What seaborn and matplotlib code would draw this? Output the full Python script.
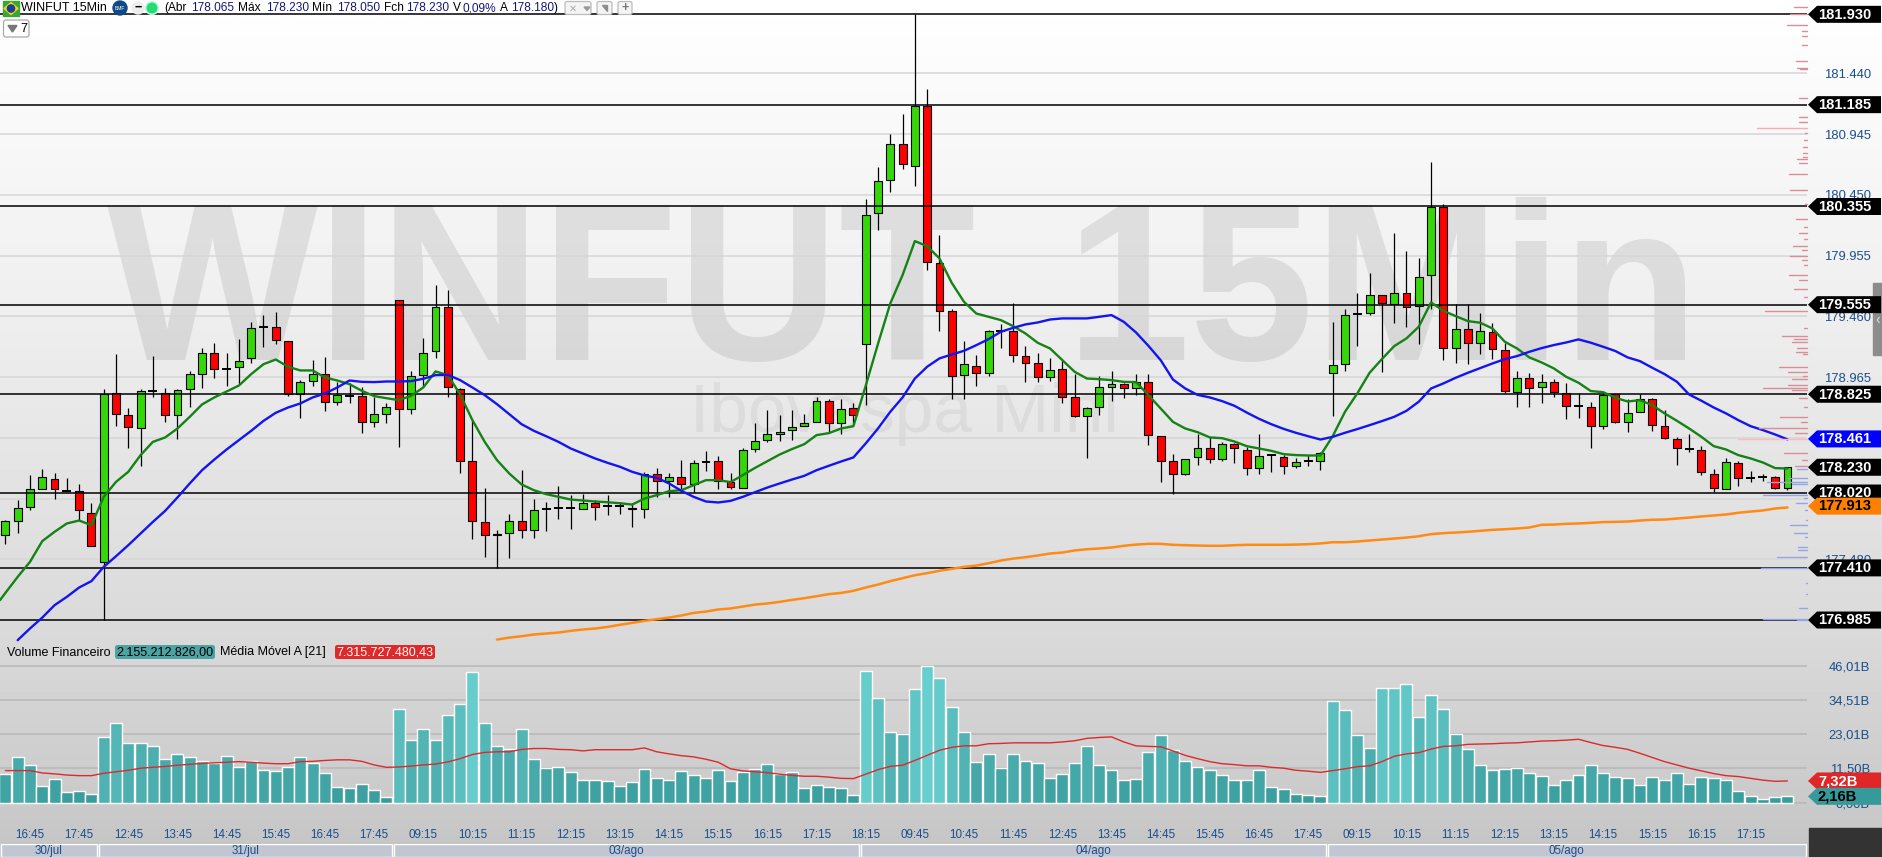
import numpy as np
import pandas as pd
import matplotlib
matplotlib.use("Agg")
import matplotlib.pyplot as plt
import seaborn as sns
from matplotlib.patches import Circle, FancyBboxPatch, Polygon, Rectangle
from matplotlib.transforms import blended_transform_factory

# candles, one entry per 15 minute bar
opens = [177.674,177.788,177.907,178.054,178.138,178.038,178.038,177.861,177.462,178.839,
         178.652,178.554,178.848,178.839,178.652,178.864,178.994,179.165,179.032,179.043,
         179.117,179.377,179.369,179.255,178.831,178.929,178.994,178.758,178.810,178.807,
         178.595,178.668,179.589,178.701,178.978,179.174,179.540,178.864,178.277,177.780,
         177.674,177.698,177.788,177.715,177.886,177.894,177.899,177.886,177.935,177.916,
         177.916,177.902,177.886,178.171,178.122,178.147,178.090,178.274,178.285,178.106,
         178.065,178.375,178.456,178.497,178.530,178.570,178.595,178.774,178.587,178.709,
         179.231,180.298,180.567,180.861,180.689,181.178,179.891,179.500,178.978,179.059,
         179.002,179.337,179.337,179.133,179.076,178.962,179.027,178.799,178.644,178.717,
         178.888,178.905,178.872,178.921,178.481,178.285,178.179,178.310,178.383,178.301,
         178.416,178.367,178.220,178.326,178.310,178.239,178.277,178.277,178.995,179.068,
         179.476,179.484,179.630,179.557,179.647,179.541,179.793,180.348,179.198,179.353,
         179.239,179.329,179.182,178.840,178.954,178.880,178.921,178.832,178.726,178.717,
         178.563,178.823,178.595,178.677,178.783,178.563,178.457,178.375,178.367,178.171,
         178.055,178.261,178.141,178.147,178.147,178.065]
closes = [177.788,177.902,178.049,178.147,178.049,178.038,177.878,177.592,178.831,178.660,
          178.562,178.848,178.848,178.652,178.856,178.986,179.165,179.027,179.032,179.100,
          179.361,179.377,179.263,178.831,178.921,178.994,178.758,178.815,178.810,178.595,
          178.668,178.717,178.701,178.970,179.165,179.540,178.880,178.285,177.788,177.682,
          177.690,177.788,177.715,177.878,177.886,177.894,177.899,177.935,177.910,177.916,
          177.916,177.886,178.171,178.122,178.147,178.090,178.261,178.274,178.114,178.073,
          178.367,178.448,178.497,178.521,178.562,178.587,178.774,178.587,178.701,178.652,
          180.282,180.559,180.861,180.698,181.178,179.899,179.507,178.970,179.068,179.002,
          179.337,179.337,179.141,179.076,178.962,179.019,178.799,178.644,178.709,178.880,
          178.905,178.872,178.921,178.489,178.285,178.171,178.301,178.383,178.301,178.416,
          178.383,178.228,178.318,178.326,178.239,178.269,178.277,178.348,179.060,179.473,
          179.476,179.630,179.565,179.647,179.533,179.777,180.348,179.198,179.353,179.239,
          179.337,179.190,178.848,178.954,178.872,178.921,178.840,178.726,178.726,178.563,
          178.815,178.595,178.669,178.783,178.571,178.465,178.383,178.375,178.188,178.063,
          178.269,178.139,178.141,178.147,178.063,178.230]
highs = [177.799,177.962,178.163,178.214,178.182,178.141,178.092,177.935,178.867,179.152,
         178.712,178.864,179.136,178.872,178.864,179.013,179.201,179.242,179.160,179.274,
         179.415,179.470,179.494,179.261,178.945,179.108,179.125,178.926,178.913,178.880,
         178.804,178.755,179.595,179.013,179.282,179.714,179.673,178.872,178.614,178.060,
         177.717,177.853,178.206,177.970,177.948,178.076,178.003,178.016,177.962,178.000,
         177.948,177.935,178.195,178.220,178.185,178.288,178.288,178.364,178.320,178.182,
         178.383,178.587,178.695,178.652,178.695,178.660,178.799,178.790,178.790,178.750,
         180.415,180.676,180.945,181.108,181.921,181.312,180.122,179.516,179.258,179.144,
         179.347,179.396,179.565,179.222,179.165,179.117,179.103,178.994,178.717,178.973,
         179.013,178.913,178.989,178.994,178.481,178.342,178.301,178.505,178.473,178.437,
         178.429,178.397,178.500,178.342,178.329,178.302,178.329,178.356,179.413,179.516,
         179.647,179.810,179.630,180.136,179.992,179.932,180.717,180.375,179.560,179.560,
         179.484,179.402,179.239,179.014,178.995,178.989,178.946,178.913,178.832,178.758,
         178.832,178.832,178.783,178.826,178.791,178.696,178.473,178.500,178.402,178.215,
         178.302,178.277,178.201,178.179,178.158,178.226]
lows = [177.603,177.696,177.880,178.049,177.973,178.030,177.793,177.587,176.985,178.565,
        178.386,178.239,178.799,178.595,178.462,178.723,178.875,178.956,178.896,178.907,
        179.081,179.212,179.236,178.810,178.633,178.896,178.687,178.739,178.755,178.511,
        178.560,178.592,178.397,178.663,178.880,179.119,178.799,178.185,177.647,177.500,
        177.405,177.492,177.655,177.652,177.712,177.810,177.728,177.886,177.799,177.845,
        177.853,177.744,177.818,177.989,177.989,178.032,178.027,178.201,178.054,178.054,
        178.065,178.356,178.437,178.440,178.451,178.570,178.595,178.511,178.500,178.587,
        178.736,180.162,180.472,180.659,180.521,179.839,179.342,178.788,178.788,178.891,
        178.975,179.201,179.089,178.924,178.926,178.934,178.755,178.636,178.307,178.655,
        178.771,178.793,178.818,178.410,178.111,178.016,178.163,178.247,178.263,178.280,
        178.266,178.165,178.179,178.190,178.174,178.220,178.239,178.207,178.650,179.016,
        179.220,179.473,179.008,179.408,179.375,179.236,179.516,179.103,179.082,179.068,
        179.155,179.114,178.832,178.723,178.723,178.756,178.804,178.625,178.631,178.389,
        178.544,178.587,178.516,178.677,178.527,178.457,178.247,178.356,178.169,178.030,
        178.049,178.076,178.109,178.114,178.055,178.044]

# moving averages
green_start = 177.147  # where the line enters at the left edge
green_ma = [177.206,177.337,177.459,177.628,177.704,177.772,177.796,177.758,177.989,178.111,
            178.193,178.329,178.437,178.473,178.546,178.641,178.742,178.799,178.848,178.896,
            178.989,179.070,179.108,179.049,179.019,179.019,178.962,178.937,178.907,178.853,
            178.810,178.793,178.777,178.812,178.880,179.011,178.981,178.823,178.614,178.437,
            178.288,178.179,178.090,178.043,178.011,177.989,177.967,177.959,177.951,177.945,
            177.937,177.926,177.975,178.003,178.035,178.043,178.084,178.125,178.125,178.109,
            178.166,178.225,178.280,178.334,178.378,178.418,178.492,178.508,178.546,178.565,
            178.894,179.236,179.565,179.796,180.073,180.032,179.932,179.733,179.578,179.483,
            179.456,179.429,179.380,179.320,179.244,179.198,179.103,179.008,178.953,178.948,
            178.940,178.926,178.924,178.818,178.709,178.600,178.546,178.516,178.473,178.467,
            178.440,178.402,178.383,178.364,178.337,178.329,178.326,178.326,178.484,178.682,
            178.832,179.000,179.111,179.217,179.280,179.375,179.573,179.505,179.462,179.421,
            179.408,179.361,179.253,179.198,179.125,179.084,179.035,178.967,178.919,178.851,
            178.842,178.796,178.766,178.777,178.736,178.669,178.609,178.546,178.478,178.402,
            178.375,178.329,178.302,178.269,178.223,178.220]
blue_ma = [176.821,176.916,177.005,177.106,177.174,177.250,177.302,177.418,177.505,
           177.595,177.690,177.785,177.875,177.984,178.098,178.206,178.293,178.375,178.451,
           178.527,178.608,178.674,178.717,178.750,178.799,178.831,178.880,178.937,178.926,
           178.924,178.929,178.929,178.932,178.951,178.981,178.983,178.940,178.880,178.818,
           178.744,178.663,178.581,178.527,178.483,178.437,178.383,178.342,178.301,178.266,
           178.234,178.193,178.163,178.144,178.098,178.038,177.989,177.951,177.943,177.956,
           177.989,178.027,178.065,178.098,178.130,178.160,178.206,178.242,178.277,178.310,
           178.424,178.546,178.682,178.799,178.953,179.049,179.117,179.149,179.179,179.225,
           179.274,179.334,179.366,179.394,179.410,179.434,179.443,179.443,179.443,179.456,
           179.470,179.415,179.328,179.220,179.103,178.945,178.872,178.820,178.799,178.769,
           178.731,178.676,178.625,178.581,178.543,178.511,178.483,178.456,178.478,178.511,
           178.541,178.573,178.606,178.641,178.690,178.764,178.872,178.913,178.959,179.000,
           179.038,179.076,179.111,179.136,179.171,179.201,179.226,179.247,179.272,179.245,
           179.212,179.177,179.125,179.095,179.041,178.989,178.927,178.823,178.772,178.717,
           178.669,178.614,178.565,178.533,178.497,178.457]
orange_ma = [176.826,176.842,176.853,176.867,176.875,176.883,176.897,176.908,176.916,176.929,
             176.946,176.962,176.978,176.992,177.005,177.022,177.043,177.054,177.071,177.079,
             177.095,177.111,177.120,177.133,177.149,177.163,177.179,177.196,177.206,177.223,
             177.250,177.274,177.302,177.326,177.350,177.367,177.386,177.402,177.418,177.429,
             177.448,177.470,177.486,177.497,177.511,177.527,177.535,177.552,177.562,177.568,
             177.576,177.590,177.600,177.606,177.606,177.598,177.595,177.592,177.590,177.590,
             177.595,177.598,177.598,177.598,177.598,177.600,177.603,177.609,177.619,177.619,
             177.625,177.633,177.641,177.649,177.657,177.668,177.685,177.693,177.698,177.704,
             177.712,177.720,177.725,177.731,177.739,177.761,177.763,177.769,177.772,177.777,
             177.783,177.785,177.788,177.796,177.802,177.804,177.812,177.820,177.829,177.837,
             177.845,177.859,177.869,177.878,177.894,177.902]

# financial volume in billions and its average
volume = [9.56,15.2,12.56,5.56,7.89,3.56,3.89,2.89,22.2,26.9,
          20.2,20.2,18.9,14.6,16.2,15.2,13.9,13.2,15.6,11.9,
          13.9,10.9,10.6,11.9,15.2,13.2,9.9,5.2,4.9,6.2,
          4.2,1.9,31.6,20.9,24.6,20.9,29.6,33.2,43.9,26.6,
          19.2,18.2,24.6,14.6,11.6,11.9,10.2,7.6,7.6,7.2,
          5.6,6.9,11.2,8.2,7.6,10.6,9.2,8.2,10.9,7.2,
          10.2,11.2,12.9,9.6,10.2,4.9,5.9,5.2,4.9,2.6,
          44.2,35.2,23.6,23.2,38.2,45.9,41.9,32.2,23.6,13.6,
          16.2,11.6,16.2,13.9,13.2,8.2,9.6,13.2,18.9,12.6,
          10.9,7.6,7.9,16.9,22.6,17.6,13.9,11.9,10.9,9.2,
          7.6,7.6,10.9,5.2,4.6,2.9,2.6,2.2,34.1,31.1,
          22.8,18.4,38.4,38.4,39.8,28.8,36.1,31.4,23.1,18.1,
          12.8,11.1,11.4,11.8,10.1,9.1,5.8,7.8,9.4,12.8,
          10.1,8.8,8.4,6.1,8.8,7.8,10.1,6.4,8.8,8.4,
          7.8,4.1,2.4,1.4,1.8,2.16]
volume_ma = [10.8,10.8,10.8,10.0,9.7,9.3,9.1,9.1,9.9,10.4,
             10.9,11.6,11.9,12.2,12.6,12.9,13.2,13.4,13.6,13.8,
             13.6,13.3,13.1,13.1,13.8,13.9,14.2,14.4,14.4,13.9,
             12.7,11.9,12.0,12.3,12.7,13.0,13.7,14.8,16.2,16.9,
             17.1,17.1,17.9,18.2,18.2,17.9,17.8,17.4,17.8,17.8,
             17.8,17.8,18.4,17.1,16.4,15.8,15.4,14.6,13.6,11.4,
             10.7,10.4,10.1,9.6,9.2,8.9,8.9,8.6,8.2,8.1,
             9.6,11.1,12.2,12.6,14.2,15.9,17.6,18.6,19.1,19.1,
             19.8,19.9,20.1,20.1,20.1,20.1,20.4,20.8,21.6,21.9,
             22.1,20.4,19.1,18.9,18.8,17.4,15.9,14.8,13.8,13.1,
             12.8,12.4,12.4,11.9,11.6,10.9,10.6,10.2,10.8,11.4,
             12.1,12.4,13.8,15.6,16.4,16.8,18.0,18.9,19.1,19.6,
             19.7,19.8,20.0,20.1,20.4,20.7,20.8,21.0,21.3,20.2,
             19.2,18.6,17.9,16.6,15.2,13.8,12.7,11.6,10.7,9.8,
             9.1,8.8,8.2,7.6,7.2,7.32]

# volume at price on the right edge, sizes as drawn
profile_price = [181.977,181.920,181.831,181.787,181.744,181.670,181.540,181.485,181.472,181.241,
                 181.086,181.040,180.991,180.950,180.896,180.842,180.793,180.760,180.744,180.706,
                 180.619,180.491,180.374,180.257,180.189,180.135,180.094,180.035,179.999,179.948,
                 179.923,179.878,179.799,179.755,179.679,179.620,179.500,179.361,179.296,179.272,
                 179.247,179.198,179.171,179.152,179.049,179.008,178.976,178.946,178.900,178.878,
                 178.859,178.791,178.723,178.639,178.601,178.554,178.506,178.457,178.343,178.288,
                 178.239,178.212,178.144,178.109,178.090,178.000,177.976,177.940,177.880,177.804,
                 177.758,177.696,177.663,177.582,177.554,177.495,177.405,177.283,177.201,177.079,
                 176.992,176.984]
profile_size = [13,17,20,5,5,5,11,10,7,8,
                8,8,50,2,3,4,4,4,10,8,
                18,17,2,11,3,8,3,14,5,17,
                5,3,18,8,13,3,42,3,25,13,
                15,10,11,4,28,19,4,15,19,44,
                15,8,3,27,6,48,12,69,23,5,
                12,10,19,40,15,44,3,11,2,1,
                17,13,2,9,9,30,46,1,1,8,
                44,10]

price_ticks = [181.44,180.945,180.45,179.955,179.46,178.965,178.47,177.975,177.48]
price_tick_labels = ["181.440","180.945","180.450","179.955","179.460","178.965","178.470","177.975","177.480"]
level_lines = [181.921,181.185,180.355,179.555,178.825,178.02,177.41,176.985]
level_labels = ["181.930","181.185","180.355","179.555","178.825","178.020","177.410","176.985"]
volume_ticks = [46.01,34.51,23.01,11.50,0.0]
volume_tick_labels = ["46,01B","34,51B","23,01B","11,50B","0,00B"]

time_labels = ["16:45","17:45","12:45","13:45","14:45","15:45","16:45","17:45",
               "09:15","10:15","11:15","12:15","13:15","14:15","15:15","16:15","17:15","18:15",
               "09:45","10:45","11:45","12:45","13:45","14:45","15:45","16:45","17:45",
               "09:15","10:15","11:15","12:15","13:15","14:15","15:15","16:15","17:15"]
day_labels = ["30/jul","31/jul","03/ago","04/ago","05/ago"]
day_first_bar = [0,8,32,70,108]

W, H = 1882, 857
AXIS_X = 1807
BAR_X0, BAR_STEP = 5.4, 12.29
XLIM = (-BAR_X0 / BAR_STEP, (AXIS_X - BAR_X0) / BAR_STEP)

BLUE_TXT = "#1a4f8c"
NAVY = "#16167a"

sns.set_theme(style="white")
plt.rcParams["font.family"] = ["Liberation Sans", "DejaVu Sans"]

fig = plt.figure(figsize=(W / 100, H / 100), dpi=100)


def px_axes(x0, y0, x1, y1, zorder):
    a = fig.add_axes([x0 / W, 1 - y1 / H, (x1 - x0) / W, (y1 - y0) / H], zorder=zorder)
    a.patch.set_visible(False)
    return a


# window background gradient
bg = px_axes(0, 0, W, H, 0)
shade = np.interp(np.arange(H), [0, 300, 640, 830, 857], [255, 239, 217, 199, 195]) / 255
bg.imshow(shade[:, None], cmap="gray", vmin=0, vmax=1, aspect="auto", extent=(0, W, H, 0))
bg.set_axis_off()

# price pane
main = px_axes(0, 12, AXIS_X, 642, 1)
main.hlines(price_ticks, *XLIM, color="#d6d6d6", lw=1.1, zorder=1)

opens_a, closes_a = np.array(opens), np.array(closes)
x = np.arange(len(opens))
main.vlines(x, lows, highs, color="black", lw=0.9, zorder=3)
up = closes_a > opens_a
down = closes_a < opens_a
flat = closes_a == opens_a
main.bar(x[up], closes_a[up] - opens_a[up], bottom=opens_a[up], width=0.64,
         color="#35d60a", edgecolor="black", linewidth=0.8, zorder=3.2)
main.bar(x[down], opens_a[down] - closes_a[down], bottom=closes_a[down], width=0.64,
         color="#ff0000", edgecolor="black", linewidth=0.8, zorder=3.2)
main.hlines(opens_a[flat], x[flat] - 0.36, x[flat] + 0.36, color="black", lw=1.4, zorder=3.2)
main.hlines(level_lines, *XLIM, color="black", lw=1.1, zorder=4)

sns.lineplot(x=np.r_[XLIM[0], x], y=[green_start] + green_ma, color="#158215", lw=1.7, ax=main, zorder=5)
sns.lineplot(x=x[1:], y=blue_ma, color="#1414f0", lw=1.7, ax=main, zorder=5.1)
sns.lineplot(x=x[40:], y=orange_ma, color="#ff8a14", lw=1.8, ax=main, zorder=5.2)

main.set_xlim(*XLIM)
main.set_ylim(176.806, 181.94)
main.set_axis_off()

# volume pane
vol = px_axes(0, 660, AXIS_X, 826, 1)
vol.hlines(volume_ticks, *XLIM, color="#b9b9b9", lw=1.2, zorder=0)
teal = sns.blend_palette(["#379a9a", "#50b2b2", "#68cfcf"], as_cmap=True)
bar_colors = [teal(v / 46) for v in volume]
df = pd.DataFrame({"bar": x, "volume": volume})
sns.barplot(data=df, x="bar", y="volume", hue="bar", palette=bar_colors, dodge=False,
            legend=False, width=0.97, saturation=1, ax=vol, zorder=2)
sns.lineplot(x=x, y=volume_ma, color="#dc2a2a", lw=1.0, ax=vol, zorder=3)
vol.set_xlim(*XLIM)
vol.set_ylim((802.8 - 826) / 2.983, (802.8 - 660) / 2.983)
vol.set_xlabel("")
vol.set_ylabel("")
vol.set_yticks([])
vol.set_xticks(np.arange(2, len(x), 4))
vol.set_xticklabels(time_labels, fontsize=8.4, color=BLUE_TXT)
vol.tick_params(axis="x", length=0, pad=2.5)
sns.despine(ax=vol, left=True, bottom=True)

# date band
days = px_axes(0, 844, AXIS_X, H, 1)
day_edges = [XLIM[0]] + [d - 0.5 for d in day_first_bar[1:]] + [XLIM[1]]
for i, label in enumerate(day_labels):
    days.barh(0.5, day_edges[i + 1] - day_edges[i] - 0.16, left=day_edges[i] + 0.08,
              height=1, color="#c2c6d2")
    days.text((day_edges[i] + day_edges[i + 1]) / 2, 0.44, label, ha="center", va="center",
              fontsize=8.4, color=BLUE_TXT)
days.set_xlim(*XLIM)
days.set_ylim(0, 1)
days.set_axis_off()

# everything else is placed in window pixels
ov = px_axes(0, 0, W, H, 6)
ov.set_xlim(0, W)
ov.set_ylim(H, 0)
ov.set_axis_off()

# background watermarks sit right behind the level lines
wm = px_axes(0, 0, W, H, 0.5)
wm.set_xlim(0, W)
wm.set_ylim(H, 0)
wm.set_axis_off()
wm.text(107, 360, "WINFUT", ha="left", va="baseline", fontsize=161, fontweight="bold",
        color="black", alpha=0.085)
wm.text(1066, 360, "15Min", ha="left", va="baseline", fontsize=161, fontweight="bold",
        color="black", alpha=0.085)
wm.text(904, 432, "Ibovespa Mini", ha="center", va="baseline", fontsize=50,
        color="black", alpha=0.05)

# volume at price
to_px = blended_transform_factory(ov.transData, main.transData)
prof_colors = ["#d98d98" if p > 178.23 else "#96a4e6" for p in profile_price]
prof_colors[profile_price.index(178.457)] = "#ffb9c0"
prof_colors[profile_price.index(180.991)] = "#ffa8b2"
for p, s, c in zip(profile_price, profile_size, prof_colors):
    ov.plot([AXIS_X - s, AXIS_X], [p, p], color=c, lw=1.0, transform=to_px, clip_on=False, zorder=1)


def y_of(ax, value):
    return ov.transData.inverted().transform(ax.transData.transform((0, value)))[1]


for p, label in zip(price_ticks, price_tick_labels):
    ov.text(1824, y_of(main, p) + 1.5, label, ha="left", va="center", fontsize=9.4,
            color=BLUE_TXT, zorder=2)
for v, label in zip(volume_ticks, volume_tick_labels):
    ov.text(1870, y_of(vol, v) + 1.5, label, ha="right", va="center", fontsize=9.4,
            color=BLUE_TXT, zorder=2)

# grey handle on the right edge and dark corner
ov.add_patch(Rectangle((1873, 283), 9, 72, color="#8c8c8c", zorder=2))
ov.text(1877.5, 320, "‹", color="#dddddd", ha="center", va="center", fontsize=10, zorder=2)
ov.add_patch(Rectangle((1809, 828), W - 1809, H - 828, color="#333333", zorder=2))


def tag(value, ax, label, face, text_color, half=8.5):
    y = y_of(ax, value)
    pts = [(1808, y), (1817, y - half), (1881, y - half), (1881, y + half), (1817, y + half)]
    ov.add_patch(Polygon(pts, closed=True, facecolor=face, edgecolor="none", zorder=3))
    ov.text(1818, y + 0.3, label, ha="left", va="center", fontsize=10.6, fontweight="bold",
            color=text_color, zorder=3)


for p, label in zip(level_lines, level_labels):
    tag(p, main, label, "black", "white")
tag(178.461, main, "178.461", "#0000ff", "white")
tag(178.23, main, "178.230", "black", "white")
tag(177.913, main, "177.913", "#ff8000", "black")
tag(7.32, vol, "7,32B", "#e02626", "white")
tag(2.16, vol, "2,16B", "#379a9a", "black")

# header row
ov.add_patch(Rectangle((3, 1), 16, 15, color="#3aa635", zorder=4))
ov.add_patch(Polygon([(4, 8.5), (11, 2.5), (18, 8.5), (11, 14.5)], color="#f3d21f", zorder=4))
ov.add_patch(Circle((11, 8.5), 3.6, color="#1b3f94", zorder=4))
ov.text(21, 8, "WINFUT 15Min", ha="left", va="center", fontsize=9, color="black", zorder=4)
ov.add_patch(Circle((120, 8), 7, color="#0f4a86", zorder=4))
ov.text(120, 8, "BMF", ha="center", va="center", fontsize=3.6, color="white", zorder=4)
ov.add_patch(Circle((138, 8), 6, color="#eeeeee", zorder=4))
ov.text(138, 7.5, "−", ha="center", va="center", fontsize=9, fontweight="bold", color="black", zorder=4)
ov.add_patch(Circle((152, 8), 6.5, color="#c8f5dc", zorder=4))
ov.add_patch(Circle((152, 8), 4.8, color="#22dd77", zorder=4))

header_parts = [(164, "(Abr", "black"), (191, "178.065", NAVY), (238, "Máx", "black"),
                (266, "178.230", NAVY), (312.5, "Mín", "black"), (337, "178.050", NAVY),
                (384, "Fch", "black"), (406, "178.230", NAVY), (453, "V", "black"),
                (463, "0,09%", NAVY), (500, "A", "black"), (511, "178.180", NAVY), (554, ")", "black")]
for hx, part, col in header_parts:
    ov.text(hx, 8, part, ha="left", va="center", fontsize=8.6, color=col, zorder=4)

for bx0, bx1 in [(565, 591), (597, 612), (618, 632)]:
    ov.add_patch(FancyBboxPatch((bx0, 1.5), bx1 - bx0, 13, boxstyle="round,pad=0,rounding_size=2",
                                facecolor="#f4f4f4", edgecolor="#bcbcbc", lw=0.9, zorder=4))
ov.text(573, 8.5, "✕", ha="center", va="center", fontsize=7, color="#aaaaaa", zorder=5)
ov.add_patch(Polygon([(584, 7), (590, 7), (587, 10.5)], color="#999999", zorder=5))
ov.add_patch(Polygon([(602, 5), (607, 5), (607, 11)], color="#8d8d8d", zorder=5))
ov.text(625, 8, "+", ha="center", va="center", fontsize=9, fontweight="bold", color="#777777", zorder=5)

ov.add_patch(FancyBboxPatch((3.5, 20), 25.5, 17, boxstyle="round,pad=0,rounding_size=2.5",
                            facecolor="white", edgecolor="#a8a8a8", lw=0.9, zorder=4))
ov.add_patch(Polygon([(8, 25.5), (17, 25.5), (12.5, 32)], color="#777777", zorder=5))
ov.text(23.5, 28.5, "7", ha="center", va="center", fontsize=9, color="black", zorder=5)

# volume header
ov.text(7, 652.5, "Volume Financeiro", ha="left", va="center", fontsize=9, color="black", zorder=4)
ov.add_patch(FancyBboxPatch((115, 645), 100, 14, boxstyle="round,pad=0,rounding_size=2.5",
                            facecolor="#4ba3a3", edgecolor="none", zorder=4))
ov.text(165, 652.5, "2.155.212.826,00", ha="center", va="center", fontsize=9, color="black", zorder=5)
ov.text(220, 652.5, "Média Móvel A [21]", ha="left", va="center", fontsize=9, color="black", zorder=4)
ov.add_patch(FancyBboxPatch((335, 645), 100, 14, boxstyle="round,pad=0,rounding_size=2.5",
                            facecolor="#de2a2a", edgecolor="none", zorder=4))
ov.text(385, 652.5, "7.315.727.480,43", ha="center", va="center", fontsize=9, color="white", zorder=5)

fig.savefig("out.png", dpi=100)
